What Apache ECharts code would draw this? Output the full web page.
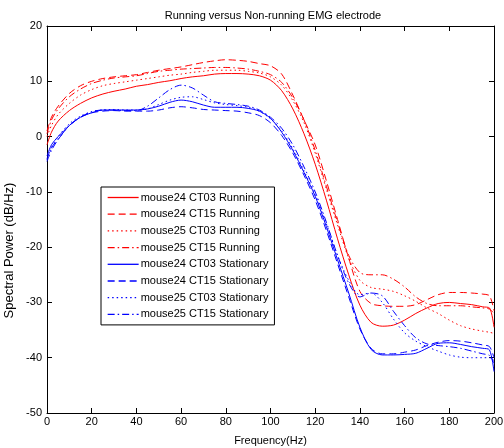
<!DOCTYPE html>
<html>
<head>
<meta charset="utf-8">
<script src="https://cdn.jsdelivr.net/npm/echarts@6/dist/echarts.min.js"></script>
<style>html,body{margin:0;padding:0;background:#fff}#c{width:504px;height:448px}</style>
</head>
<body>
<div id="c"></div>
<script>
const freq = [0,2,5,10,15,20,25,30,35,40,45,50,55,60,65,70,75,80,85,90,95,100,105,110,115,120,125,130,135,140,145,150,155,160,165,170,175,180,185,190,195,198,200];

const m24ct03Run = [-1.5,0.8,2.8,4.7,6,7,7.7,8.2,8.6,9.1,9.4,9.8,10.1,10.5,10.8,11,11.3,11.4,11.4,11.3,11,10.2,8.3,5,0.5,-5,-11.5,-18.5,-25,-30.5,-33.6,-34.3,-34.1,-33.2,-32,-31,-30.2,-30,-30.2,-30.4,-30.8,-31,-34.5];
const m24ct15Run = [1,3.5,5.5,7.8,9.2,10,10.5,10.8,11,11.2,11.6,12,12.3,12.6,13,13.4,13.7,13.9,13.8,13.6,13.2,12.8,11.3,7.5,3,-1.5,-8,-15,-22,-28,-30.2,-30.6,-30.7,-30.7,-30.4,-29.5,-28.6,-28.2,-28.2,-28.3,-28.5,-28.8,-31.5];
const m25ct03Run = [0,2,4,6,7.5,8.5,9.2,9.6,9.9,10.2,10.5,10.8,11.1,11.3,11.6,11.8,12,12,12,11.8,11.5,10.8,9.3,6.5,2.5,-3,-9.5,-16,-22,-26,-27.3,-27.6,-28,-28.8,-29.8,-31,-32,-33.2,-34.2,-34.8,-35.2,-35.4,-35.6];
const m25ct15Run = [0.5,3,5,7.2,8.6,9.6,10.2,10.6,10.8,11,11.4,11.8,12,12.2,12.3,12.4,12.5,12.5,12.4,12.2,11.8,11.2,9.8,7,3,-2.5,-9,-15.5,-21.5,-24.6,-25,-25,-25.8,-27.2,-29,-30.2,-30.6,-30.6,-30.6,-30.8,-31,-31.2,-32];
const m24ct03Sta = [-3.5,-1.5,0,2,3.5,4.3,4.8,4.8,4.8,4.8,5,5.5,6.2,6.6,6.3,5.7,5.3,5.3,5.3,5.1,4.6,3.3,0.8,-2.5,-6.5,-10.8,-16.3,-22.3,-28.3,-34.5,-38.5,-39.5,-39.5,-39.4,-39.2,-38.3,-37.4,-37.3,-37.6,-38,-38.3,-38.6,-42.5];
const m24ct15Sta = [-4,-2,-0.5,2,3.5,4.3,4.6,4.7,4.6,4.6,4.6,4.8,5.2,5.4,5.2,4.9,4.8,4.7,4.6,4.3,3.8,2.5,0.2,-3,-7,-11.5,-17,-23,-29,-34.8,-38.3,-39.3,-39.3,-39,-38.6,-37.8,-37.2,-36.9,-37,-37.3,-37.7,-38,-40];
const m25ct03Sta = [-4.2,-2,0,2.3,3.7,4.5,4.8,4.9,4.8,4.8,5,5.8,6.6,7.1,7.2,6.7,6.1,5.8,5.6,5.3,4.6,3.2,1,-2.2,-6.2,-10.5,-15.8,-21.5,-26,-28.6,-28.3,-30,-33,-35.5,-37,-38,-38.8,-39.5,-39.9,-40,-40,-40,-40.5];
const m25ct15Sta = [-4.5,-2.5,-0.5,2,3.5,4.5,4.8,4.8,4.7,4.7,5.5,7,8.5,9.3,8.8,7.5,6.3,6,5.8,5.5,4.8,3.5,1.5,-1.5,-5.5,-10,-15.5,-21.5,-26.5,-29,-28.3,-28.8,-31.6,-34.2,-36.4,-37.5,-37.8,-38,-38.3,-38.8,-39.3,-39.6,-41];

const seriesNames = ['mouse24 CT03 Running','mouse24 CT15 Running','mouse25 CT03 Running','mouse25 CT15 Running',
  'mouse24 CT03 Stationary','mouse24 CT15 Stationary','mouse25 CT03 Stationary','mouse25 CT15 Stationary'];
const seriesValues = [m24ct03Run,m24ct15Run,m25ct03Run,m25ct15Run,m24ct03Sta,m24ct15Sta,m25ct03Sta,m25ct15Sta];
const xTicks = [0,20,40,60,80,100,120,140,160,180,200];
const yTicks = [-50,-40,-30,-20,-10,0,10,20];

const colors = ['#ff0000','#ff0000','#ff0000','#ff0000','#0000ff','#0000ff','#0000ff','#0000ff'];
const dashes = ['solid',[7,4],[1.5,3],[7,3,1.5,3],'solid',[7,4],[1.5,3],[7,3,1.5,3]];

const font = 'Liberation Sans, Arial, sans-serif';
const axisCommon = {
  axisLine:{show:true,onZero:false,lineStyle:{color:'#000',width:1}},
  axisTick:{show:true,inside:true,length:5,lineStyle:{color:'#000'}},
  splitLine:{show:false}
};

const chart = echarts.init(document.getElementById('c'), null, {renderer:'canvas'});
chart.setOption({
  animation:false,
  backgroundColor:'#fff',
  textStyle:{fontFamily:font},
  title:{text:'Running versus Non-running EMG electrode',left:268,top:5,textAlign:'center',
    textStyle:{fontSize:11,fontWeight:'normal',color:'#000',fontFamily:font}},
  grid:{left:47,right:10,top:26,bottom:35,containLabel:false,outerBoundsMode:'none'},
  legend:{
    orient:'vertical',left:101,top:187,itemWidth:31,itemHeight:11,itemGap:5.7,
    padding:[5,6,5,6],borderColor:'#000',borderWidth:1,backgroundColor:'#fff',
    textStyle:{fontSize:11,color:'#000',fontFamily:font,padding:[0,0,0,-3]},
    data:seriesNames.map((n,i)=>({name:n,itemStyle:{opacity:0},lineStyle:{color:colors[i],width:1.3,type:dashes[i],opacity:1}}))
  },
  xAxis:[
    Object.assign({type:'value',min:xTicks[0],max:xTicks[xTicks.length-1],interval:20,position:'bottom',
      name:'Frequency(Hz)',nameLocation:'middle',nameGap:22,
      nameTextStyle:{fontSize:11,color:'#000',fontFamily:font},
      axisLabel:{fontSize:11,color:'#000',margin:3,fontFamily:font}},axisCommon),
    Object.assign({type:'value',min:0,max:200,interval:20,position:'top',axisLabel:{show:false}},axisCommon)
  ],
  yAxis:[
    Object.assign({type:'value',min:yTicks[0],max:yTicks[yTicks.length-1],interval:10,position:'left',
      name:'Spectral Power (dB/Hz)',nameLocation:'middle',nameGap:31,nameMoveOverlap:false,
      nameTextStyle:{fontSize:13,color:'#000',fontFamily:font,padding:[0,0,0,-62]},
      axisLabel:{fontSize:11,color:'#000',margin:5,fontFamily:font}},axisCommon),
    Object.assign({type:'value',min:-50,max:20,interval:10,position:'right',axisLabel:{show:false}},axisCommon)
  ],
  series: seriesNames.map((n,i)=>({
    name:n,type:'line',smooth:0.3,symbol:'none',showSymbol:false,
    data:freq.map((f,j)=>[f,seriesValues[i][j]]),
    lineStyle:{color:colors[i],width:1,type:dashes[i]},
    itemStyle:{color:colors[i]},
    emphasis:{disabled:true}
  }))
});
</script>
</body>
</html>
